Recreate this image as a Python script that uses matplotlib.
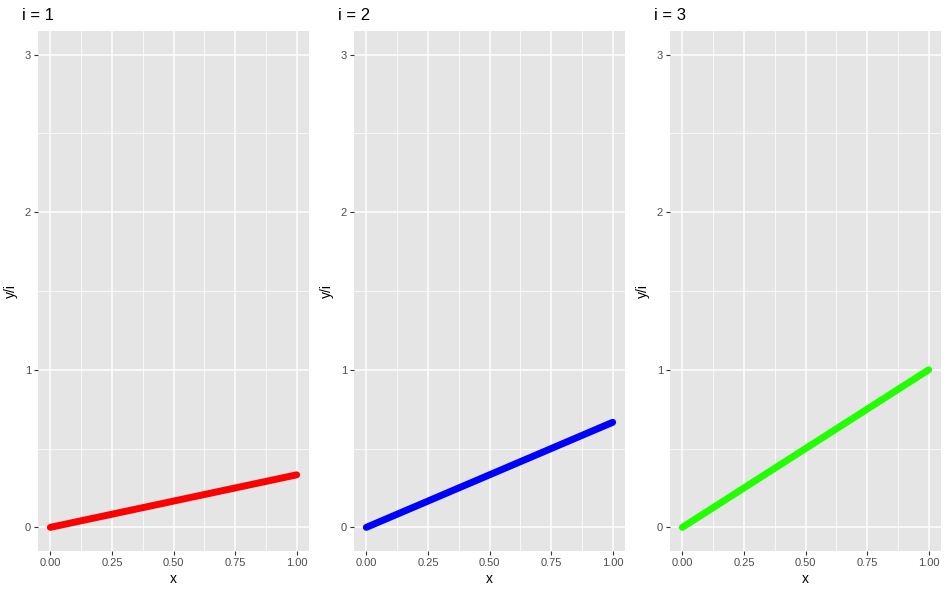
import numpy as np
import matplotlib.pyplot as plt

# data: y = x * i / 3, plotted as y/i per panel
x = [0.0, 1.0]
panels = [1, 2, 3]
y_over_i = [[0.0, 1/3], [0.0, 2/3], [0.0, 1.0]]
colors = ['#FF0000', '#0000FF', '#22FF00']
titles = ['i = 1', 'i = 2', 'i = 3']

plt.rcParams['font.family'] = ['Liberation Sans', 'DejaVu Sans']

fig = plt.figure(figsize=(9.49, 5.93), dpi=100)
W, H = 949, 593
lefts = [38, 354, 670]
top, bottom = 31, 551
width = 271

for k, i in enumerate(panels):
    ax = fig.add_axes([lefts[k] / W, (H - bottom) / H, width / W, (bottom - top) / H])
    ax.set_facecolor('#E5E5E5')
    for s in ax.spines.values():
        s.set_visible(False)
    ax.set_xlim(-0.05, 1.05)
    ax.set_ylim(-0.15, 3.15)
    ax.set_xticks([0, 0.25, 0.5, 0.75, 1.0])
    ax.set_xticklabels(['0.00', '0.25', '0.50', '0.75', '1.00'])
    ax.set_yticks([0, 1, 2, 3])
    ax.set_xticks([0.125, 0.375, 0.625, 0.875], minor=True)
    ax.set_yticks([0.5, 1.5, 2.5], minor=True)
    ax.grid(which='major', color='white', linewidth=1.1)
    ax.grid(which='minor', color='white', linewidth=0.55)
    ax.set_axisbelow(True)
    ax.tick_params(which='major', length=3, width=0.8, color='#333333',
                   labelsize=8, labelcolor='#4D4D4D', pad=2)
    ax.tick_params(which='minor', length=0)
    ax.plot(x, y_over_i[k], color=colors[k], linewidth=5, solid_capstyle='round')
    ax.set_xlabel('x', fontsize=10, labelpad=3)
    ax.set_ylabel('y/i', fontsize=10, labelpad=5)
    ax.set_title(titles[k], loc='left', fontsize=12, pad=8, x=-0.06)

fig.savefig('out.png', dpi=100)
